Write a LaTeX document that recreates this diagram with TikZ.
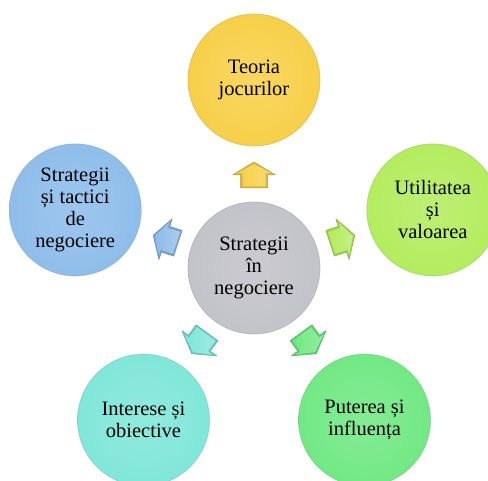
\documentclass[tikz,border=0pt]{standalone}
\usepackage{fontspec}
\setmainfont{Liberation Serif}

\definecolor{cCenter}{HTML}{C1C1C8}
\definecolor{cTop}{HTML}{F7CF45}
\definecolor{cRight}{HTML}{B2EC5B}
\definecolor{cBotRight}{HTML}{6FE882}
\definecolor{cBotLeft}{HTML}{7DE6D8}
\definecolor{cLeft}{HTML}{8CBCEA}

% Beveled ball: light core, saturated body, light band and a soft grey rim
% (the circle's edge falls at about 35.4bp of the shading)
\newcommand\makeballshade[2]{%
  \pgfdeclareradialshading{#1}{\pgfpoint{0bp}{0bp}}{%
    color(0bp)=(#2!85!white);
    color(15bp)=(#2!92!white);
    color(28.5bp)=(#2);
    color(31.5bp)=(#2!82!white);
    color(33.8bp)=(#2!82!gray);
    color(35bp)=(#2!62!gray);
    color(35.6bp)=(#2!45!white);
    color(50bp)=(#2!45!white)}}
\makeballshade{ballCenter}{cCenter}
\makeballshade{ballTop}{cTop}
\makeballshade{ballRight}{cRight}
\makeballshade{ballBotRight}{cBotRight}
\makeballshade{ballBotLeft}{cBotLeft}
\makeballshade{ballLeft}{cLeft}

\begin{document}
\begin{tikzpicture}[x=1pt,y=1pt,
  ball/.style={circle, minimum size=132pt, inner sep=0pt, align=center,
    font=\fontsize{20.5}{22}\selectfont, text=black,
    shading=ball#1, draw=c#1!60!gray, draw opacity=0.55, line width=0.8pt},
  blockarrow/.style={line width=0.5pt, line join=round},
]
\useasboundingbox (0,0) rectangle (488,480);

% hub and the five topics around it
\node[ball=Center] (hub) at (254,212) {Strategii\\în\\negociere};
\node[ball=Top] (top) at ([shift={(90:188pt)}]hub.center) {Teoria\\jocurilor};
\node[ball=Right] (right) at ([shift={(18:188pt)}]hub.center) {Utilitatea\\și\\valoarea};
\node[ball=BotRight] (botright) at ([shift={(306:188pt)}]hub.center) {Puterea și\\influența};
\node[ball=BotLeft] (botleft) at ([shift={(234:188pt)}]hub.center) {Interese și\\obiective};
\node[ball=Left] (left) at ([shift={(162:188pt)}]hub.center) {Strategii\\și tactici\\de\\negociere};

% block arrows pointing from the hub to each topic
\foreach \ang/\col in {90/cTop, 18/cRight, 306/cBotRight, 234/cBotLeft, 162/cLeft}{
  \begin{scope}[shift={(hub.center)}, rotate=\ang]
    \path[blockarrow, fill=\col!88!black, draw=\col!75!black]
      (80,-13.5) -- (93,-13.5) -- (93,-21.5) -- (106,0) -- (93,21.5)
      -- (93,13.5) -- (80,13.5) -- cycle;
    \path[left color=\col, right color=\col!75!white]
      (81.5,-11.5) -- (94.5,-11.5) -- (94.5,-17.5) -- (104,0) -- (94.5,17.5)
      -- (94.5,11.5) -- (81.5,11.5) -- cycle;
  \end{scope}
}
\end{tikzpicture}
\end{document}
